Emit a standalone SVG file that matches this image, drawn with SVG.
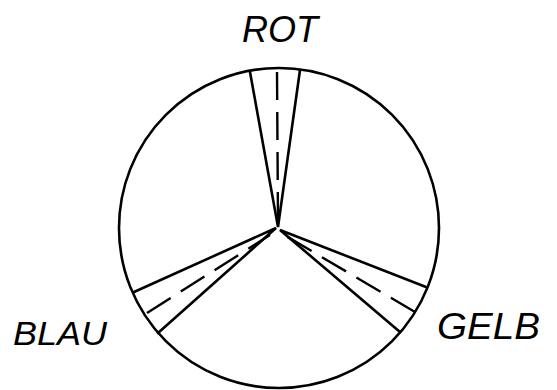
<svg xmlns="http://www.w3.org/2000/svg" width="557" height="390" viewBox="0 0 557 390">
<style>
.ln{stroke:#000;stroke-width:2.6;fill:none;stroke-linecap:round}
.ds{stroke:#000;stroke-width:2.4;fill:none;stroke-dasharray:28 12}
.lb{font-family:"Liberation Sans",sans-serif;font-style:italic;fill:#000}
</style>
<rect width="557" height="390" fill="#fff"/>
<g id="disc">
<circle class="ln" cx="279" cy="228" r="160"/>
</g>
<g id="connectors">
<g id="wedge-rot">
<path class="ln" d="M250,72 L278,227 L300,70"/>
<path class="ds" d="M277,72 L278,222"/>
</g>
<g id="wedge-blau">
<path class="ln" d="M134,292 L276,228 L158,333"/>
<path class="ds" d="M147,313 L270,235"/>
</g>
<g id="wedge-gelb">
<path class="ln" d="M426,287 L280,230 L400,332"/>
<path class="ds" d="M415,312 L286,236"/>
</g>
</g>
<g id="label-rot"><text class="lb" x="242" y="42" font-size="36" textLength="76" lengthAdjust="spacingAndGlyphs">ROT</text></g>
<g id="label-blau"><text class="lb" x="13" y="345" font-size="34" textLength="94" lengthAdjust="spacingAndGlyphs">BLAU</text></g>
<g id="label-gelb"><text class="lb" x="437" y="339" font-size="36" textLength="103" lengthAdjust="spacingAndGlyphs">GELB</text></g>
</svg>
